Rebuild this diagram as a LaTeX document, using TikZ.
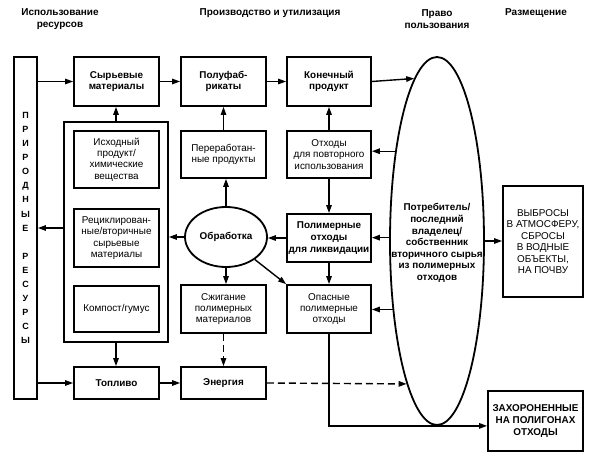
\documentclass[tikz,border=0pt]{standalone}
\usepackage{fontspec}
\setmainfont{Liberation Sans}
\usetikzlibrary{arrows.meta,shapes.geometric}
\begin{document}
\begin{tikzpicture}[x=1pt,y=-1pt,
  txt/.style={font=\fontsize{9.9}{11.4}\selectfont, align=center, inner sep=0pt},
  btxt/.style={font=\fontsize{9.9}{11.6}\selectfont\bfseries, align=center, inner sep=0pt},
  box/.style={draw, line width=1.8pt, txt},
  bbox/.style={draw, line width=1.8pt, btxt},
  arr/.style={line width=1.4pt, -{Triangle[length=8pt,width=5.5pt]}},
  darr/.style={arr, dash pattern=on 7pt off 4pt},
  head/.style={font=\fontsize{10}{12}\selectfont\bfseries, align=center, inner sep=0pt}
]
\useasboundingbox (0,0) rectangle (602,462);

% headers
\node[head] (h1) at (60,19) {Использование\\ресурсов};
\node[head] (h2) at (270,13) {Производство и утилизация};
\node[head] (h3) at (437,19) {Право\\пользования};
\node[head] (h4) at (536,13) {Размещение};

% left column
\node[draw, line width=1.8pt, minimum width=23, minimum height=342, inner sep=0pt, align=center,
      font=\fontsize{9}{14.05}\selectfont\bfseries] (nat) at (25.5,228)
  {П\\Р\\И\\Р\\О\\Д\\Н\\Ы\\Е\\[14.05pt]Р\\Е\\С\\У\\Р\\С\\Ы};

\node[draw, line width=1.8pt, minimum width=104, minimum height=220, inner sep=0pt] (group) at (116,232) {};

\node[bbox, minimum width=85, minimum height=49] (raw) at (116.5,81.5) {Сырьевые\\материалы};
\node[box, minimum width=85, minimum height=57] (src) at (116.5,159.5) {Исходный\\продукт/\\химические\\вещества};
\node[box, minimum width=85, minimum height=58] (rec) at (116.5,238) {Рециклирован-\\ные/вторичные\\сырьевые\\материалы};
\node[box, minimum width=85, minimum height=46] (comp) at (116.5,309) {Компост/гумус};
\node[bbox, minimum width=85, minimum height=32] (fuel) at (116.5,383) {Топливо};

% middle column
\node[bbox, minimum width=85, minimum height=49] (semi) at (223.5,81.5) {Полуфаб-\\рикаты};
\node[box, minimum width=85, minimum height=47] (proc) at (223.5,154.5) {Переработан-\\ные продукты};
\node[draw, ellipse, line width=1.8pt, minimum width=82, minimum height=60, btxt] (treat) at (226,237) {Обработка};
\node[box, minimum width=85, minimum height=48] (burn) at (223.5,309) {Сжигание\\полимерных\\материалов};
\node[bbox, minimum width=85, minimum height=32] (energy) at (223.5,383) {Энергия};

% right column
\node[bbox, minimum width=84, minimum height=49] (final) at (329,81.5) {Конечный\\продукт};
\node[box, minimum width=84, minimum height=47] (reuse) at (329,154.5) {Отходы\\для повторного\\использования};
\node[bbox, minimum width=84, minimum height=48] (polym) at (329,238) {Полимерные\\отходы\\для ликвидации};
\node[box, minimum width=84, minimum height=48] (hazard) at (329,309) {Опасные\\полимерные\\отходы};

% consumer ellipse
\node[draw, ellipse, line width=1.8pt, minimum width=94, minimum height=368, inner sep=0pt] (cons) at (437,241) {};
\node[btxt] (constext) at (437,243) {Потребитель/\\последний\\владелец/\\собственник\\вторичного сырья\\из полимерных\\отходов};

% placement boxes
\node[box, minimum width=80, minimum height=111] (emis) at (543,241.5) {ВЫБРОСЫ\\В АТМОСФЕРУ,\\СБРОСЫ\\В ВОДНЫЕ\\ОБЪЕКТЫ,\\НА ПОЧВУ};
\node[bbox, minimum width=95, minimum height=60] (landfill) at (535.5,421) {ЗАХОРОНЕННЫЕ\\НА ПОЛИГОНАХ\\ОТХОДЫ};

% connectors
\draw[arr] (nat.east |- raw) -- (raw.west);
\draw[arr] (raw.east) -- (semi.west);
\draw[arr] (semi.east) -- (final.west);
\draw[arr] (final.east) -- (cons.98.46);
\draw[arr] (group.north) -- (group.north |- raw.south);
\draw[arr] ([yshift=4pt]group.west) -- ([yshift=4pt]group.west -| nat.east);
\draw[arr] (group.south) -- (group.south |- fuel.north);
\draw[arr] (nat.east |- fuel) -- (fuel.west);
\draw[arr] (fuel.east) -- (energy.west);
\draw[darr] (energy.east) -- (cons.258.11);
\draw[darr] (burn.south) -- (energy.north);
\draw[arr] (proc.north) -- (semi.south);
\draw[arr] (treat.north) -- (treat.north |- proc.south);
\draw[arr] (treat.west) -- (treat.west -| group.east);
\draw[arr] (treat.south) -- (treat.south |- burn.north);
\draw[arr] (polym.west) -- (polym.west -| treat.east);
\draw[arr] (treat.-38) -- (hazard.north west);
\draw[arr] (reuse.north) -- (final.south);
\draw[arr] (reuse.south) -- (polym.north);
\draw[arr] (polym.south) -- (hazard.north);
\draw[arr] (cons.115.79) -- (cons.115.79 -| reuse.east);
\draw[arr] (cons.176.35) -- (cons.176.35 -| polym.east);
\draw[arr] (cons.237.29) -- (cons.237.29 -| hazard.east);
\draw[arr] (cons.east) -- (cons.east -| emis.west);
\draw[arr] (hazard.south) |- (cons.south) -- (cons.south -| landfill.west);
\end{tikzpicture}
\end{document}
